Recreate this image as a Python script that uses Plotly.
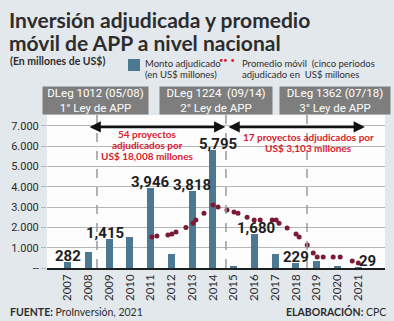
import plotly.graph_objects as go

# ---------------- data ----------------
years = list(range(2007, 2022))
monto = [282, 790, 1415, 1530, 3946, 690, 3818, 5795, 100, 1680, 690, 229, 350, 50, 29]
bar_labels = ["282", "", "1,415", "", "3,946", "", "3,818", "5,795", "", "1,680", "", "229", "", "", "29"]

# moving average (dotted series), decimal year / value
ma_x = [2011.06, 2011.30, 2011.83, 2012.02, 2012.22, 2012.70, 2013.04, 2013.18, 2013.57,
        2014.00, 2014.25, 2014.68, 2015.02, 2015.21, 2015.65, 2015.99, 2016.28, 2016.86,
        2017.05, 2017.19, 2017.58, 2018.01, 2018.16, 2018.55, 2018.84, 2019.03, 2019.32,
        2019.80, 2020.14, 2020.72, 2021.01]
ma_y = [1530, 1580, 1630, 1680, 1770, 2000, 2200, 2360, 2700,
        3100, 3000, 2860, 2760, 2700, 2500, 2360, 2360, 2360,
        2360, 2200, 1970, 1670, 1530, 1130, 740, 540, 540,
        540, 540, 350, 250]

ley_fechas = [2008.41, 2014.63, 2018.54]
ley_textos = ["DLeg 1012 (05/08)<br>1° Ley de APP",
              "DLeg 1224  (09/14)<br>2° Ley de APP",
              "DLeg 1362 (07/18)<br>3° Ley de APP"]

periodos = [(2007.98, 2014.60), (2014.68, 2021.33)]
periodo_textos = [["54 proyectos", "adjudicados por", "US$ 18,008 millones"],
                  ["17 proyectos adjudicados por", "US$ 3,103 millones"]]

ytick_vals = [0, 1000, 2000, 3000, 4000, 5000, 6000, 7000]
ytick_text = ["--", "1.000", "2.000", "3.000", "4.000", "5.000", "6.000", "7.000"]

# ---------------- styling / layout ----------------
W, H = 394, 321
L, R, T, B = 47, 9, 115, 53
PW, PH = W - L - R, H - T - B
BG = "#e3e8ed"
BAR = "#4d7891"
DOT = "#7b1a34"
RED = "#d8202e"
DARK = "#2b2b2b"
SANS = "Lato"


def px(x):
    return (x - L) / PW


def py(y):
    return (H - B - y) / PH


fig = go.Figure()
fig.add_trace(go.Bar(x=years, y=monto, width=0.34, marker=dict(color=BAR, line=dict(width=0)),
                     hoverinfo="x+y"))
fig.add_trace(go.Scatter(x=ma_x, y=ma_y, mode="markers",
                         marker=dict(color=DOT, size=5), hoverinfo="skip"))

ann = []
label_xshift = {2009: -4, 2014: 5, 2016: 2, 2021: 9}
for yr, v, t in zip(years, monto, bar_labels):
    if t:
        ann.append(dict(x=yr, y=v, xref="x", yref="y", text=t, showarrow=False,
                        yanchor="middle", yshift=6, xshift=label_xshift.get(yr, 0),
                        font=dict(family="Roboto", size=15, color="#1e1e1e", weight="bold")))

# law boxes
box_cx = [95.5, 216, 335]
box_w = [105, 112, 110]
for cx, bw, txt in zip(box_cx, box_w, ley_textos):
    ann.append(dict(x=px(cx), y=py(100.5), xref="paper", yref="paper", text=txt,
                    showarrow=False, xanchor="center", yanchor="middle",
                    width=bw, height=27, bgcolor="#7e7e7e", borderpad=0,
                    font=dict(family="Roboto", size=11.5, color="white")))

# arrows
for x0, x1 in periodos:
    ann.append(dict(x=x1, y=6950, ax=x0, ay=6950, xref="x", yref="y", axref="x", ayref="y",
                    text="", showarrow=True, arrowhead=2, arrowside="end+start",
                    arrowsize=0.9, arrowwidth=2.5, arrowcolor="#111", standoff=0, startstandoff=0))

# period texts
pt_pos = [(147, [134, 145, 156]), (308, [137, 148])]
for (cx, ys), lines in zip(pt_pos, periodo_textos):
    for yy, line in zip(ys, lines):
        ann.append(dict(x=px(cx), y=py(yy), xref="paper", yref="paper", text=line,
                        showarrow=False, xanchor="center", yanchor="middle",
                        font=dict(family=SANS, size=10, color=RED, weight="bold")))

# title, subtitle
for yy, line in [(19.5, "Inversión adjudicada y promedio"), (42.5, "móvil de APP a nivel nacional")]:
    ann.append(dict(x=px(7), y=py(yy), xref="paper", yref="paper", text=line, showarrow=False,
                    xanchor="left", yanchor="middle",
                    font=dict(family=SANS, size=21, color="#2d2d2d", weight="bold")))
ann.append(dict(x=px(8), y=py(61), xref="paper", yref="paper", text="(En millones de US$)",
                showarrow=False, xanchor="left", yanchor="middle",
                font=dict(family=SANS, size=10.5, color="#2d2d2d", weight="bold")))

# legend
for yy, line in [(63, "Monto adjudicado"), (74, "(en US$ millones)")]:
    ann.append(dict(x=px(143), y=py(yy), xref="paper", yref="paper", text=line, showarrow=False,
                    xanchor="left", yanchor="middle",
                    font=dict(family=SANS, size=9.5, color="#2d2d2d")))
for yy, line in [(63, "Promedio móvil  (cinco periodos"), (74, "adjudicado en  US$ millones")]:
    ann.append(dict(x=px(240), y=py(yy), xref="paper", yref="paper", text=line, showarrow=False,
                    xanchor="left", yanchor="middle",
                    font=dict(family=SANS, size=9.5, color="#2d2d2d")))
ann.append(dict(x=px(227), y=py(61), xref="paper", yref="paper", text="•• •", showarrow=False,
                xanchor="center", yanchor="middle",
                font=dict(family="Roboto", size=12, color=RED, weight="bold")))

# footer
ann.append(dict(x=px(8), y=py(312), xref="paper", yref="paper",
                text="<b>FUENTE:</b> ProInversión, 2021", showarrow=False,
                xanchor="left", yanchor="middle",
                font=dict(family=SANS, size=10.5, color="#2d2d2d")))
ann.append(dict(x=px(388), y=py(311), xref="paper", yref="paper",
                text="<b>ELABORACIÓN:</b> CPC", showarrow=False,
                xanchor="right", yanchor="middle",
                font=dict(family=SANS, size=10.5, color="#2d2d2d")))

shapes = []
for xd in ley_fechas:
    shapes.append(dict(type="line", x0=xd, x1=xd, xref="x", yref="paper", y0=0, y1=1,
                       line=dict(color="#9a9a9a", width=1.5, dash="dash")))
shapes.append(dict(type="rect", xref="paper", yref="paper", x0=px(128), x1=px(140),
                   y0=py(71), y1=py(59), fillcolor=BAR, line=dict(width=0)))

fig.update_layout(
    width=W, height=H, margin=dict(l=L, r=R, t=T, b=B),
    paper_bgcolor=BG, plot_bgcolor="#fdfdfd", showlegend=False,
    bargap=0, annotations=ann, shapes=shapes,
    font=dict(family="Roboto", color=DARK),
    xaxis=dict(range=[2006, 2022.3], tickvals=years, ticktext=[str(y) for y in years],
               tickangle=-90, showgrid=False, showline=True, linecolor="#1e1e1e", linewidth=1.5,
               ticks="", zeroline=False, fixedrange=True,
               tickfont=dict(family=SANS, size=11.5, color=DARK)),
    yaxis=dict(range=[0, 7540], tickvals=ytick_vals, ticktext=ytick_text,
               showgrid=True, gridcolor="#b5b5b5", gridwidth=1, zeroline=False,
               ticks="outside", ticklen=5, tickcolor="#b5b5b5", showline=False,
               fixedrange=True, tickfont=dict(family="Roboto", size=11, color=DARK)),
)

fig.write_html("out.html", config=dict(displayModeBar=False))
